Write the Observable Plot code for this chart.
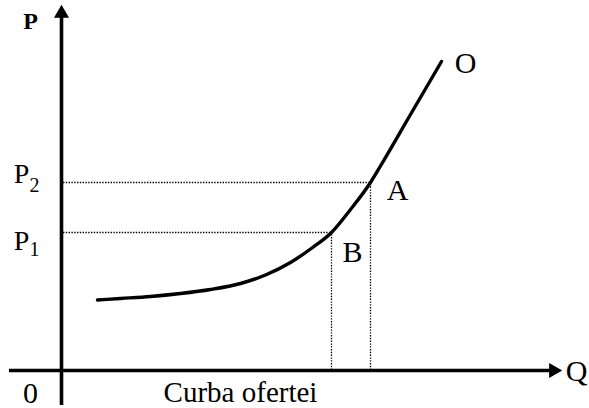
<!DOCTYPE html>
<html>
<head>
<meta charset="utf-8">
<script src="https://cdn.jsdelivr.net/npm/d3@7"></script>
<script src="https://cdn.jsdelivr.net/npm/@observablehq/plot@0.6"></script>
<style>
  html, body { margin: 0; padding: 0; background: #fff; }
  #chart svg { display: block; }
</style>
</head>
<body>
<div id="chart"></div>
<script>
// Supply curve (Q, P)
const curveQ = [36, 59, 89, 119, 149, 179, 204, 229, 249, 270, 289, 309, 319, 349, 380];
const curveP = [70.5, 72, 74, 77, 81, 87, 95.5, 108, 121.5, 138, 161, 188, 204.5, 256, 309];
// Points B and A on the curve
const pointNames = ["B", "A"];
const pointQ = [270, 309];
const pointP = [138, 188];
const priceLabels = ["P1", "P2"];
// Axis extents
const axisQ = [-52, 492];
const axisP = [-35, 357];
const curveName = "O";
const caption = "Curba ofertei";

const curve = curveQ.map((q, i) => ({q, p: curveP[i]}));
const pts = pointNames.map((n, i) => ({name: n, q: pointQ[i], p: pointP[i], label: priceLabels[i]}));
const ptB = pts.filter(d => d.name === "B");
const ptA = pts.filter(d => d.name === "A");

const font = "Liberation Serif";

const rightTriangle = {
  draw(ctx, size) {
    const y = Math.sqrt(size / (Math.sqrt(3) * 3));
    ctx.moveTo(2 * y, 0);
    ctx.lineTo(-y, -Math.sqrt(3) * y);
    ctx.lineTo(-y, Math.sqrt(3) * y);
    ctx.closePath();
  }
};
const upTriangle = {
  draw(ctx, size) {
    const y = Math.sqrt(size / (Math.sqrt(3) * 3));
    ctx.moveTo(0, -2 * y);
    ctx.lineTo(-Math.sqrt(3) * y, y);
    ctx.lineTo(Math.sqrt(3) * y, y);
    ctx.closePath();
  }
};

const T = {fontFamily: font, fill: "#000"};

const chart = Plot.plot({
  width: 589,
  height: 408,
  marginLeft: 61,
  marginRight: 38,
  marginTop: 0,
  marginBottom: 38,
  x: {domain: [0, 490], axis: null},
  y: {domain: [0, 370], axis: null},
  style: {fontFamily: font, background: "#fff", overflow: "visible"},
  marks: [
    // dotted guide lines
    Plot.ruleY(pts, {y: "p", x1: 2, x2: "q", stroke: "#000", strokeWidth: 1.3, strokeDasharray: "1.4 1.4"}),
    Plot.ruleX(pts, {x: "q", y1: 0, y2: "p", stroke: "#000", strokeWidth: 1.3, strokeDasharray: "1.4 1.4"}),
    // axes
    Plot.ruleX([0], {y1: axisP[0], y2: axisP[1], stroke: "#000", strokeWidth: 3.6}),
    Plot.ruleY([0], {x1: axisQ[0], x2: axisQ[1], stroke: "#000", strokeWidth: 3.6}),
    Plot.dot([0], {x: 0, y: axisP[1], symbol: upTriangle, r: 5.6, fill: "#000", stroke: null}),
    Plot.dot([0], {x: axisQ[1], y: 0, symbol: rightTriangle, r: 5.6, fill: "#000", stroke: null}),
    // supply curve
    Plot.line(curve, {x: "q", y: "p", curve: "monotone-x", stroke: "#000", strokeWidth: 3.4}),
    // labels
    Plot.text(["P"], {...T, x: 0, y: axisP[1], dx: -31, dy: 8, text: d => d, fontSize: 24, fontWeight: "bold"}),
    Plot.text(["Q"], {...T, x: axisQ[1], y: 0, dx: 23, dy: 1, text: d => d, fontSize: 30}),
    Plot.text(["0"], {...T, x: 0, y: 0, dx: -31, dy: 23, text: d => d, fontSize: 30}),
    Plot.text([caption], {...T, x: 0, y: 0, dx: 179, dy: 22, text: d => d, fontSize: 29}),
    Plot.text([curve[curve.length - 1]], {...T, x: "q", y: "p", dx: 24, dy: 2, text: () => curveName, fontSize: 30}),
    Plot.text(ptA, {...T, x: "q", y: "p", dx: 27, dy: 8, text: "name", fontSize: 30}),
    Plot.text(ptB, {...T, x: "q", y: "p", dx: 21, dy: 20, text: "name", fontSize: 30}),
    Plot.text(ptA, {...T, x: 0, y: "p", dx: -40, dy: -8, text: d => d.label.charAt(0), fontSize: 28}),
    Plot.text(ptA, {...T, x: 0, y: "p", dx: -27, dy: 3, text: d => d.label.slice(1), fontSize: 20}),
    Plot.text(ptB, {...T, x: 0, y: "p", dx: -40, dy: 9, text: d => d.label.charAt(0), fontSize: 28}),
    Plot.text(ptB, {...T, x: 0, y: "p", dx: -27, dy: 17, text: d => d.label.slice(1), fontSize: 20})
  ]
});
document.getElementById("chart").appendChild(chart);
</script>
</body>
</html>
